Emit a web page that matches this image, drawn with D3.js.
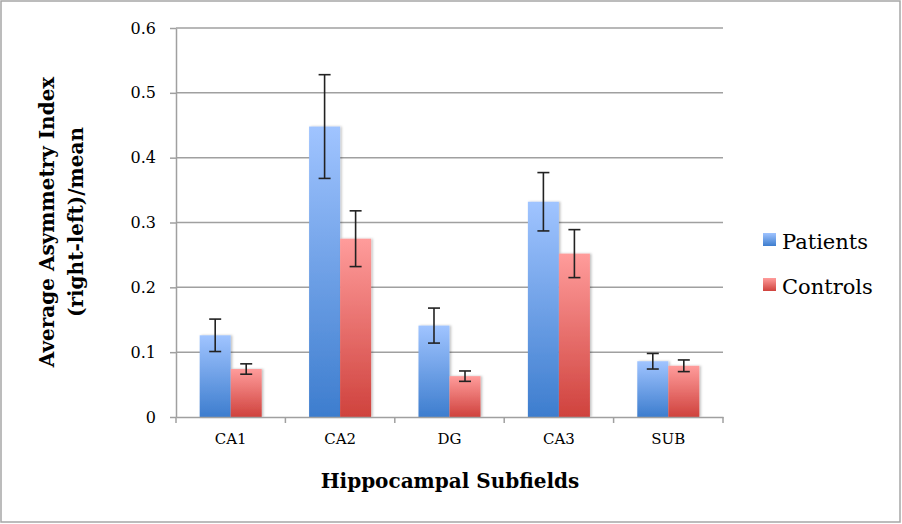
<!DOCTYPE html>
<html>
<head>
    <meta charset="utf-8" />
    <title>Asymmetry index</title>
    <script src="https://cdn.jsdelivr.net/npm/d3@7"></script>
    <style>
        body { margin: 0; background: #fff; }
        text { font-family: "DejaVu Serif", serif; fill: #000; }
        .grid line { stroke: #a0a0a0; stroke-width: 1.5; }
    </style>
</head>
<body>
    <script>
        var subfields = ['CA1', 'CA2', 'DG', 'CA3', 'SUB'];
        var seriesNames = ['Patients', 'Controls'];
        var patients = [0.126, 0.448, 0.141, 0.332, 0.086];
        var patientsErr = [0.025, 0.080, 0.027, 0.045, 0.012];
        var controls = [0.074, 0.275, 0.063, 0.252, 0.079];
        var controlsErr = [0.008, 0.043, 0.008, 0.037, 0.009];
        var yTicks = [0, 0.1, 0.2, 0.3, 0.4, 0.5, 0.6];

        var W = 902, H = 524;
        var m = { left: 176, right: 723, top: 28, bottom: 417 };

        var svg = d3.select('body').append('svg').attr('width', W).attr('height', H);

        // gradients
        var defs = svg.append('defs');
        var grads = [['gBlue', '#a0c4ff', '#3d7dce'], ['gRed', '#ff9c9b', '#cf423d']];
        grads.forEach(function (g) {
            var lg = defs.append('linearGradient').attr('id', g[0])
                .attr('x1', 0).attr('y1', 0).attr('x2', 0).attr('y2', 1);
            lg.append('stop').attr('offset', '0%').attr('stop-color', g[1]);
            lg.append('stop').attr('offset', '100%').attr('stop-color', g[2]);
        });
        var f = defs.append('filter').attr('id', 'shadow').attr('x', '-20%').attr('y', '-5%').attr('width', '140%').attr('height', '110%');
        f.append('feDropShadow').attr('dx', 1.5).attr('dy', 0).attr('stdDeviation', 1.2).attr('flood-color', '#000').attr('flood-opacity', 0.25);

        // frame
        svg.append('rect').attr('x', 1).attr('y', 1).attr('width', W - 3).attr('height', H - 3)
            .attr('fill', 'none').attr('stroke', '#a6a6a6').attr('stroke-width', 1.5);

        var x = d3.scaleBand().domain(subfields).range([m.left, m.right]).paddingInner(0.433).paddingOuter(0.2165);
        var xs = d3.scaleBand().domain(seriesNames).range([0, x.bandwidth()]);
        var y = d3.scaleLinear().domain([0, 0.6]).range([m.bottom, m.top]);

        // gridlines
        svg.append('g').attr('class', 'grid')
            .selectAll('line').data(yTicks.slice(1)).enter().append('line')
            .attr('x1', m.left).attr('x2', m.right)
            .attr('y1', function (d) { return y(d); }).attr('y2', function (d) { return y(d); });

        // y axis
        var yAxis = svg.append('g').attr('transform', 'translate(' + m.left + ',0)')
            .call(d3.axisLeft(y).tickValues(yTicks).tickSize(6).tickSizeOuter(0).tickPadding(14)
                .tickFormat(function (d) { return d === 0 ? '0' : d3.format('.1f')(d); }));
        yAxis.select('.domain').attr('stroke', '#a0a0a0').attr('stroke-width', 1.5);
        yAxis.selectAll('.tick line').attr('stroke', '#a0a0a0').attr('stroke-width', 1.5);
        yAxis.selectAll('text').style('font-family', '"DejaVu Serif", serif').style('font-size', '16px').attr('fill', '#000');

        // bars
        var flat = [];
        subfields.forEach(function (s, i) {
            flat.push({ cat: s, name: 'Patients', v: patients[i], e: patientsErr[i], fill: 'url(#gBlue)' });
            flat.push({ cat: s, name: 'Controls', v: controls[i], e: controlsErr[i], fill: 'url(#gRed)' });
        });

        svg.append('g').selectAll('rect').data(flat).enter().append('rect')
            .attr('x', function (d) { return x(d.cat) + xs(d.name); })
            .attr('y', function (d) { return y(d.v); })
            .attr('width', xs.bandwidth())
            .attr('height', function (d) { return y(0) - y(d.v); })
            .attr('fill', function (d) { return d.fill; })
            .attr('filter', 'url(#shadow)');

        // x axis
        var xAxis = svg.append('g').attr('transform', 'translate(0,' + m.bottom + ')')
            .call(d3.axisBottom(x).tickSize(0).tickPadding(16));
        xAxis.select('.domain').attr('stroke', '#a0a0a0').attr('stroke-width', 1.5);
        xAxis.selectAll('text').style('font-family', '"DejaVu Serif", serif').style('font-size', '15px').attr('fill', '#000');
        var bounds = subfields.map(function (s) { return x(s) - x.step() * x.paddingInner() / 2; });
        bounds.push(m.right);
        xAxis.selectAll('.sep').data(bounds).enter().append('line')
            .attr('x1', function (d) { return d; }).attr('x2', function (d) { return d; })
            .attr('y1', 0).attr('y2', 6).attr('stroke', '#a0a0a0').attr('stroke-width', 1.5);

        // error bars
        var eb = svg.append('g').attr('stroke', '#222').attr('stroke-width', 1.6);
        flat.forEach(function (d) {
            var cx = x(d.cat) + xs(d.name) + xs.bandwidth() / 2;
            eb.append('line').attr('x1', cx).attr('x2', cx).attr('y1', y(d.v + d.e)).attr('y2', y(d.v - d.e));
            eb.append('line').attr('x1', cx - 6).attr('x2', cx + 6).attr('y1', y(d.v + d.e)).attr('y2', y(d.v + d.e));
            eb.append('line').attr('x1', cx - 6).attr('x2', cx + 6).attr('y1', y(d.v - d.e)).attr('y2', y(d.v - d.e));
        });

        // axis titles
        svg.append('text').attr('x', 450).attr('y', 488).attr('text-anchor', 'middle')
            .style('font-size', '20px').style('font-weight', 'bold').text('Hippocampal Subfields');
        var yt = svg.append('text').attr('transform', 'translate(54,222) rotate(-90)')
            .attr('text-anchor', 'middle').style('font-size', '20px').style('font-weight', 'bold');
        yt.append('tspan').attr('x', 0).attr('dy', 0).text('Average Asymmetry Index');
        yt.append('tspan').attr('x', 0).attr('dy', 29).text('(right-left)/mean');

        // legend
        var lg = svg.append('g').selectAll('g').data(seriesNames).enter().append('g')
            .attr('transform', function (d, i) { return 'translate(763,' + (233 + i * 45) + ')'; });
        lg.append('rect').attr('width', 13).attr('height', 13)
            .attr('fill', function (d, i) { return i === 0 ? 'url(#gBlue)' : 'url(#gRed)'; });
        lg.append('text').attr('x', 19).attr('y', 16).style('font-size', '21px').text(function (d) { return d; });
    </script>
</body>
</html>
